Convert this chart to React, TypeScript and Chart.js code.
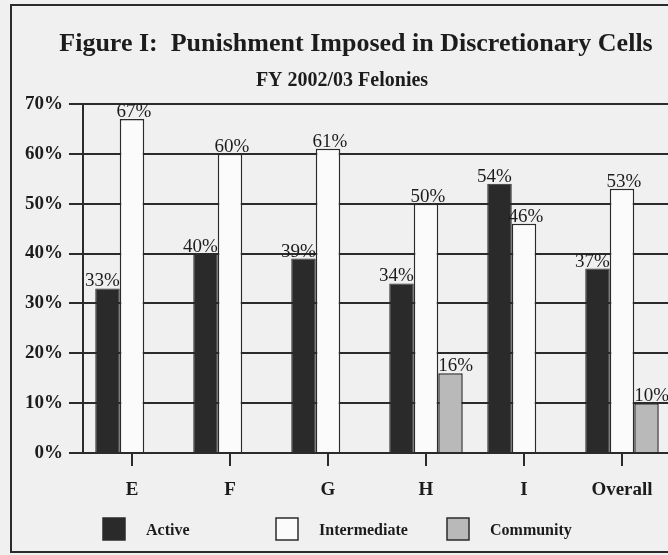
import React, { useEffect, useRef } from "react";
import { Chart, registerables } from "chart.js";

Chart.register(...registerables);

const categories = ["E", "F", "G", "H", "I", "Overall"];
const seriesNames = ["Active", "Intermediate", "Community"];
const activeValues = [33, 40, 39, 34, 54, 37];
const intermediateValues = [67, 60, 61, 50, 46, 53];
const communityValues: (number | null)[] = [null, null, null, 16, null, 10];
const yMin = 0;
const yMax = 70;
const yStep = 10;
const titleText = "Figure I:  Punishment Imposed in Discretionary Cells";
const subtitleText = "FY 2002/03 Felonies";

const SERIF = "'Liberation Serif', 'Times New Roman', serif";
const INK = "#1c1c1c";
const LINE = "#2b2b2b";
const BG = "#f0f0f0";
const FILLS = ["#2a2a2a", "#fbfbfb", "#b9b9b9"];

const CW = 680;
const CH = 555;

const bgPlugin = {
  id: "bgPlugin",
  beforeDraw(chart: any) {
    const ctx = chart.ctx;
    ctx.save();
    ctx.fillStyle = BG;
    ctx.fillRect(0, 0, chart.width, chart.height);
    ctx.restore();
  },
};

const labelPlugin = {
  id: "labelPlugin",
  afterDatasetsDraw(chart: any) {
    const ctx = chart.ctx;
    ctx.save();
    ctx.font = `19px ${SERIF}`;
    ctx.fillStyle = INK;
    ctx.textBaseline = "alphabetic";
    chart.data.datasets.forEach((ds: any, di: number) => {
      const meta = chart.getDatasetMeta(di);
      meta.data.forEach((el: any, i: number) => {
        const v = ds.data[i];
        if (v === null || v === undefined || v === 0) return;
        const txt = `${v}%`;
        const half = el.width / 2;
        let x = el.x;
        if (di === 0) {
          ctx.textAlign = "right";
          x = el.x + half;
        } else if (di === 1) {
          ctx.textAlign = "center";
          x = el.x + 2;
        } else {
          ctx.textAlign = "left";
          x = el.x - half;
        }
        ctx.fillText(txt, x, el.y - 2);
      });
    });
    ctx.restore();
  },
};

const decorPlugin = {
  id: "decorPlugin",
  afterDraw(chart: any) {
    const ctx = chart.ctx;
    ctx.save();
    // title & subtitle
    ctx.fillStyle = INK;
    ctx.textAlign = "center";
    ctx.textBaseline = "alphabetic";
    ctx.font = `bold 26px ${SERIF}`;
    ctx.fillText(titleText, 356, 51);
    ctx.font = `bold 20px ${SERIF}`;
    ctx.fillText(subtitleText, 342, 86);

    // legend
    const boxLefts = [103, 276, 447];
    ctx.font = `bold 16px ${SERIF}`;
    ctx.textAlign = "left";
    ctx.textBaseline = "middle";
    seriesNames.forEach((name, i) => {
      const bx = boxLefts[i];
      ctx.fillStyle = FILLS[i];
      ctx.fillRect(bx, 518, 22, 22);
      ctx.strokeStyle = LINE;
      ctx.lineWidth = 1.5;
      ctx.strokeRect(bx, 518, 22, 22);
      ctx.fillStyle = INK;
      ctx.fillText(name, bx + 43, 531);
    });

    // frame
    ctx.strokeStyle = LINE;
    ctx.lineWidth = 2;
    ctx.strokeRect(11, 5, chart.width + 20, 547);
    ctx.restore();
  },
};

export default function App() {
  const ref = useRef<HTMLCanvasElement | null>(null);

  useEffect(() => {
    if (!ref.current) return;
    const chart = new Chart(ref.current, {
      type: "bar",
      data: {
        labels: categories,
        datasets: [
          {
            label: seriesNames[0],
            data: activeValues,
            backgroundColor: FILLS[0],
            borderColor: LINE,
            borderWidth: 1,
            categoryPercentage: 0.75,
            barPercentage: 1,
          },
          {
            label: seriesNames[1],
            data: intermediateValues,
            backgroundColor: FILLS[1],
            borderColor: LINE,
            borderWidth: 1.5,
            categoryPercentage: 0.75,
            barPercentage: 1,
          },
          {
            label: seriesNames[2],
            data: communityValues,
            backgroundColor: FILLS[2],
            borderColor: LINE,
            borderWidth: 1.5,
            categoryPercentage: 0.75,
            barPercentage: 1,
          },
        ],
      },
      options: {
        responsive: false,
        animation: false,
        devicePixelRatio: 1,
        layout: { padding: { top: 104, left: 0, right: CW - 671, bottom: 52 } },
        plugins: {
          legend: { display: false },
          title: { display: false },
          tooltip: { enabled: false },
        },
        scales: {
          x: {
            grid: {
              offset: false,
              drawOnChartArea: false,
              drawTicks: true,
              tickLength: 13,
              color: LINE,
              lineWidth: 2,
            },
            border: { display: true, color: LINE, width: 2 },
            ticks: {
              font: { family: SERIF, size: 19, weight: "bold" },
              color: INK,
              padding: 13,
              maxRotation: 0,
            },
            afterFit: (s: any) => {
              s.height = 50;
            },
          },
          y: {
            min: yMin,
            max: yMax,
            ticks: {
              stepSize: yStep,
              callback: (v: any) => `${v}%`,
              font: { family: SERIF, size: 19, weight: "bold" },
              color: INK,
              padding: 6,
            },
            grid: { color: LINE, lineWidth: 2, tickLength: 14, drawTicks: true },
            border: { display: true, color: LINE, width: 2 },
            afterFit: (s: any) => {
              s.width = 83;
            },
          },
        },
      },
      plugins: [bgPlugin, labelPlugin, decorPlugin],
    } as any);
    return () => chart.destroy();
  }, []);

  return (
    <div
      style={{
        position: "fixed",
        left: 0,
        top: 0,
        width: 668,
        height: 555,
        overflow: "hidden",
        background: BG,
      }}
    >
      <canvas ref={ref} width={CW} height={CH} style={{ width: CW, height: CH, display: "block" }} />
    </div>
  );
}
